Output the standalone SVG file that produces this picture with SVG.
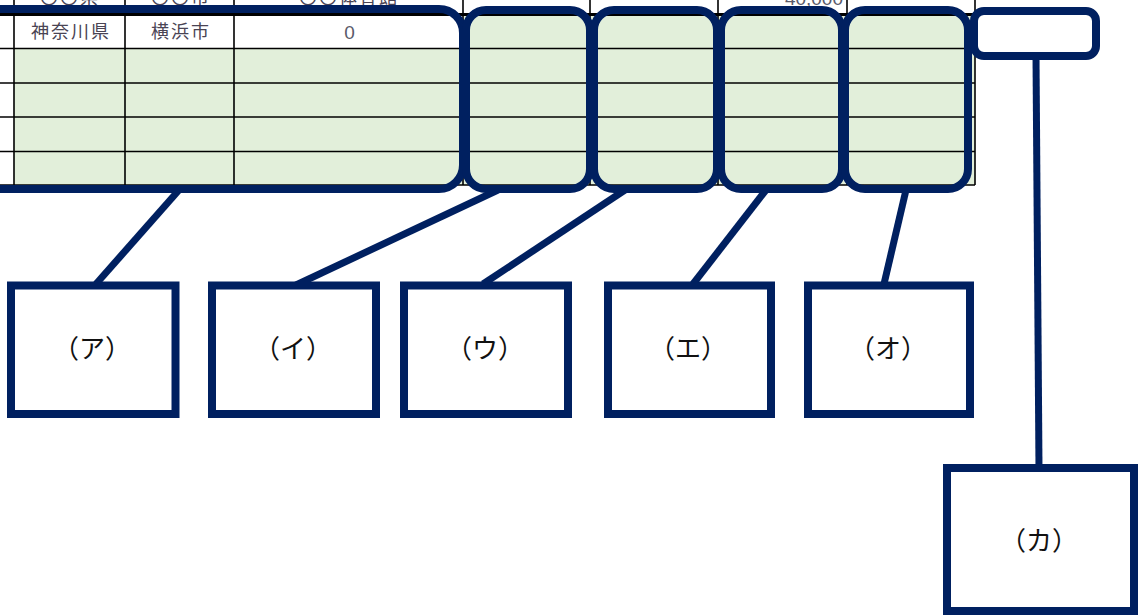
<svg xmlns="http://www.w3.org/2000/svg" width="1139" height="615" viewBox="0 0 1139 615">
  <defs>
    <style>
      .cell { font-family: "Noto Sans CJK JP", "Noto Sans", sans-serif; font-size: 18px; fill: #4a4454; letter-spacing: 2px; }
      .num { font-family: "Liberation Sans", "Noto Sans", sans-serif; font-size: 19px; fill: #5a5a6a; }
      .grid { stroke: #000; stroke-width: 1.6; fill: none; }
      .sel { stroke: #002060; stroke-width: 8; fill: none; }
      .conn { stroke: #002060; stroke-width: 7; fill: none; }
      .lbl rect { stroke: #002060; stroke-width: 8; fill: #fff; }
      .lbl text { font-family: "Noto Sans CJK JP", "Noto Sans", sans-serif; font-size: 26px; fill: #111; text-anchor: middle; }
    </style>
  </defs>
  <rect x="0" y="0" width="1139" height="615" fill="#fff"/>

  <g id="table">
    <rect x="14" y="48.5" width="449" height="136.5" fill="#E2EFDA"/>
    <rect x="463" y="14" width="512" height="171" fill="#E2EFDA"/>
    <g class="grid">
      <line x1="0" y1="48.5" x2="975" y2="48.5"/>
      <line x1="0" y1="83" x2="975" y2="83"/>
      <line x1="0" y1="117" x2="975" y2="117"/>
      <line x1="0" y1="151.5" x2="975" y2="151.5"/>
      <line x1="0" y1="185" x2="975" y2="185"/>
      <line x1="14" y1="0" x2="14" y2="185"/>
      <line x1="125" y1="0" x2="125" y2="185"/>
      <line x1="234" y1="0" x2="234" y2="185"/>
      <line x1="463" y1="0" x2="463" y2="185"/>
      <line x1="590" y1="0" x2="590" y2="185"/>
      <line x1="718" y1="0" x2="718" y2="185"/>
      <line x1="847" y1="0" x2="847" y2="185"/>
      <line x1="975" y1="0" x2="975" y2="185"/>
    </g>
    <line x1="0" y1="14.5" x2="975" y2="14.5" stroke="#000" stroke-width="3"/>
    <text class="cell" x="70" y="4" text-anchor="middle">〇〇県</text>
    <text class="cell" x="181" y="4" text-anchor="middle">〇〇市</text>
    <text class="cell" x="349" y="4" text-anchor="middle">〇〇体育館</text>
    <text class="num" x="843" y="5" text-anchor="end">40,000</text>
    <text class="cell" x="71" y="38" text-anchor="middle">神奈川県</text>
    <text class="cell" x="181" y="38" text-anchor="middle">横浜市</text>
    <text class="num" x="349.5" y="39" text-anchor="middle">0</text>
  </g>

  <g id="connectors">
    <line class="conn" x1="179" y1="190" x2="96" y2="284"/>
    <line class="conn" x1="498" y1="190" x2="296" y2="285"/>
    <line class="conn" x1="625" y1="190" x2="483" y2="284"/>
    <line class="conn" x1="766" y1="190" x2="693" y2="284"/>
    <line class="conn" x1="906" y1="190" x2="884" y2="284"/>
    <line class="conn" x1="1036" y1="56" x2="1039" y2="468"/>
  </g>

  <g id="highlights">
    <rect id="hl-a" class="sel" x="-40" y="9" width="503" height="180" rx="24"/>
    <rect id="hl-i" class="sel" x="466" y="10" width="124" height="179" rx="20"/>
    <rect id="hl-u" class="sel" x="594" y="10" width="123" height="179" rx="20"/>
    <rect id="hl-e" class="sel" x="721" y="10" width="121" height="179" rx="20"/>
    <rect id="hl-o" class="sel" x="845" y="10" width="123" height="179" rx="20"/>
  </g>

  <g id="node-ka-top">
    <rect x="974" y="11" width="122" height="45" rx="10" fill="#fff" stroke="#002060" stroke-width="8"/>
  </g>

  <g id="node-a" class="lbl">
    <rect x="11" y="285.5" width="164.5" height="128.5"/>
    <text x="92" y="358">（ア）</text>
  </g>
  <g id="node-i" class="lbl">
    <rect x="212" y="285.5" width="164" height="128.5"/>
    <text x="293" y="358">（イ）</text>
  </g>
  <g id="node-u" class="lbl">
    <rect x="404" y="285.5" width="164" height="128.5"/>
    <text x="485" y="358">（ウ）</text>
  </g>
  <g id="node-e" class="lbl">
    <rect x="608" y="285.5" width="163" height="128.5"/>
    <text x="688" y="358">（エ）</text>
  </g>
  <g id="node-o" class="lbl">
    <rect x="808" y="285.5" width="162" height="128.5"/>
    <text x="888" y="358">（オ）</text>
  </g>
  <g id="node-ka" class="lbl">
    <rect x="947" y="468" width="187" height="143"/>
    <text x="1039" y="550">（カ）</text>
  </g>
</svg>
